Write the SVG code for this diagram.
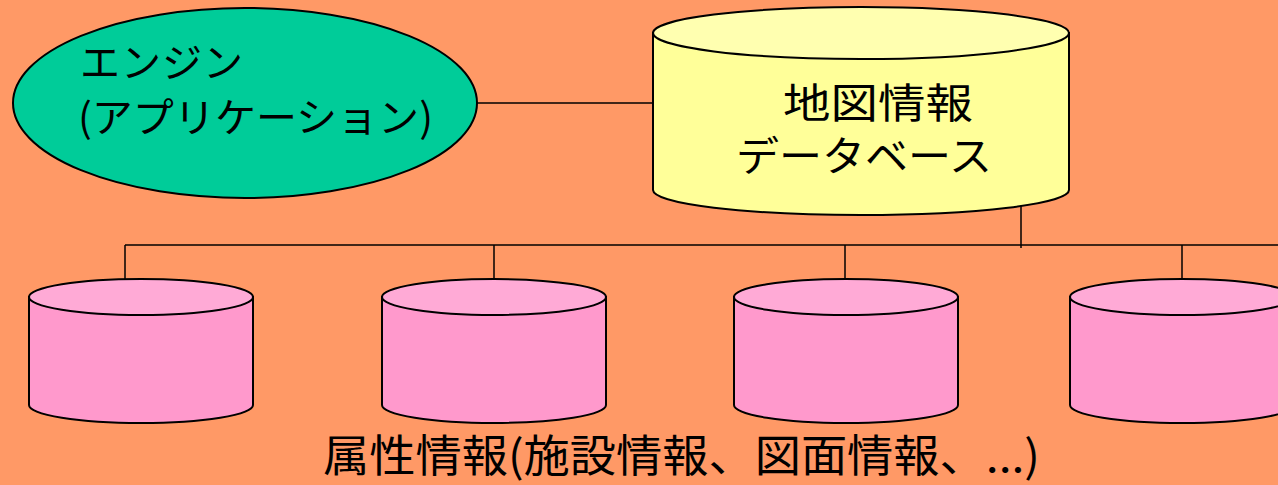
<svg xmlns="http://www.w3.org/2000/svg" width="1278" height="485" viewBox="0 0 1278 485">
<style>
.bg{fill:#FF9966}
.edge{stroke:#000;stroke-width:1.5;fill:none}
.outline{stroke:#000;stroke-width:2}
.yb{fill:#FFFF99}
.yt{fill:#FFFFB0}
.pb{fill:#FF99CC}
.pt{fill:#FFAAD6}
.t{font-family:"Noto Sans CJK JP","Noto Sans",sans-serif;fill:#000}
</style>
<rect class="bg" x="0" y="0" width="1278" height="485"/>
<g id="connectors">
<line class="edge" x1="477" y1="103" x2="654" y2="103"/>
<line class="edge" x1="1021" y1="199" x2="1021" y2="248"/>
<line class="edge" x1="125" y1="245" x2="1278" y2="245"/>
<line class="edge" x1="125" y1="245" x2="125" y2="279"/>
<line class="edge" x1="494" y1="245" x2="494" y2="279"/>
<line class="edge" x1="845" y1="245" x2="845" y2="279"/>
<line class="edge" x1="1182" y1="245" x2="1182" y2="279"/>
</g>
<g id="engine">
<ellipse class="outline" cx="245" cy="103" rx="232" ry="95" fill="#00CC99"/>
<text class="t" x="80" y="77" font-size="40" letter-spacing="1">エンジン</text>
<text class="t" x="78" y="132" font-size="40" textLength="355" lengthAdjust="spacingAndGlyphs">(アプリケーション)</text>
</g>
<g id="mapdb">
<path class="outline yb" d="M653,33 V190 A208,25 0 0 0 1069,190 V33 Z"/>
<ellipse class="outline yt" cx="861" cy="33" rx="208" ry="26"/>
<text class="t" x="783" y="118" font-size="41" textLength="190" lengthAdjust="spacingAndGlyphs">地図情報</text>
<text class="t" x="736" y="171" font-size="41" textLength="256" lengthAdjust="spacingAndGlyphs">データベース</text>
</g>
<g id="attr1">
<path class="outline pb" d="M29,297 V405 A112,18 0 0 0 253,405 V297 Z"/>
<ellipse class="outline pt" cx="141" cy="297" rx="112" ry="18"/>
</g>
<g id="attr2">
<path class="outline pb" d="M382,297 V405 A112,18 0 0 0 606,405 V297 Z"/>
<ellipse class="outline pt" cx="494" cy="297" rx="112" ry="18"/>
</g>
<g id="attr3">
<path class="outline pb" d="M734,297 V405 A112,18 0 0 0 958,405 V297 Z"/>
<ellipse class="outline pt" cx="846" cy="297" rx="112" ry="18"/>
</g>
<g id="attr4">
<path class="outline pb" d="M1070,297 V405 A112,18 0 0 0 1294,405 V297 Z"/>
<ellipse class="outline pt" cx="1182" cy="297" rx="112" ry="18"/>
</g>
<g id="caption">
<text class="t" x="323" y="472" font-size="44" textLength="717" lengthAdjust="spacingAndGlyphs">属性情報(施設情報、図面情報、...)</text>
</g>
</svg>
